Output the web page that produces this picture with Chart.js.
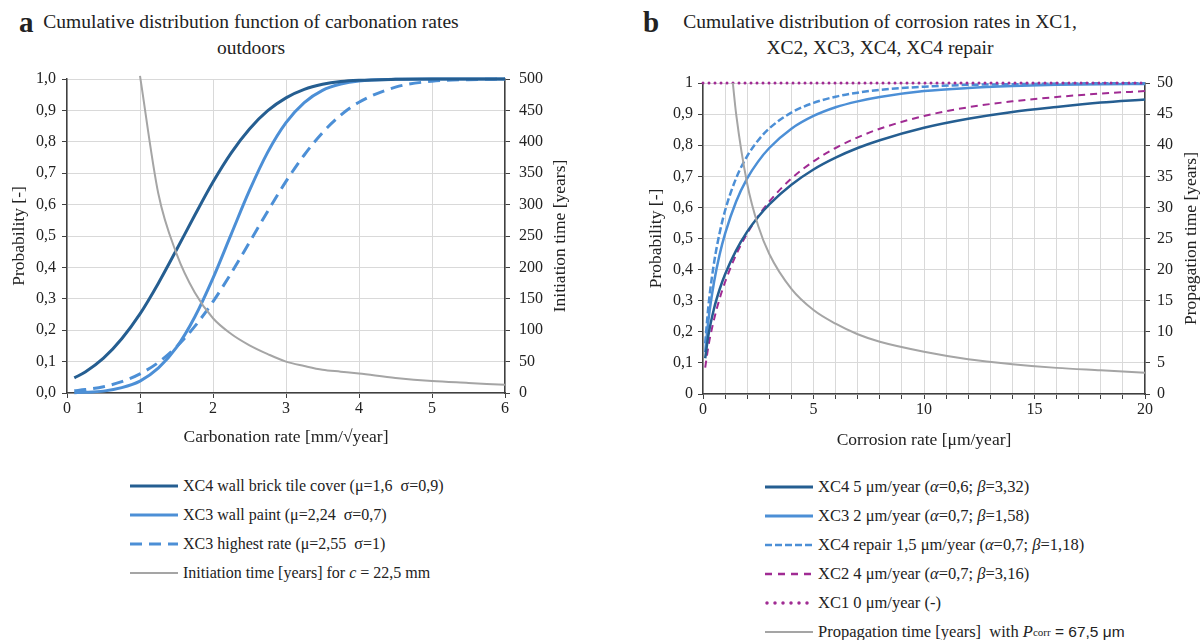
<!DOCTYPE html>
<html>
<head>
<meta charset="utf-8">
<script src="https://cdn.jsdelivr.net/npm/chart.js@4.4.0/dist/chart.umd.min.js"></script>
<style>
  body { margin: 0; background: #fff; font-family: "Liberation Serif", serif; color: #222; }
  #page { position: relative; width: 1204px; height: 640px; overflow: hidden; }
  .box { position: absolute; }
  .ttl { position: absolute; text-align: center; font-size: 19.5px; line-height: 26px; white-space: nowrap; }
  .lab { position: absolute; font-weight: bold; font-size: 29px; }
  .leg { position: absolute; font-size: 16.5px; }
  .leg div { height: 29px; display: flex; align-items: center; white-space: pre; }
  .leg svg { margin-right: 5px; }
</style>
</head>
<body>
<div id="page">
  <div class="lab" style="left:19px; top:6px;">a</div>
  <div class="ttl" style="left:1px; width:500px; top:9px;">Cumulative distribution function of carbonation rates<br>outdoors</div>
  <div class="lab" style="left:643px; top:6px;">b</div>
  <div class="ttl" style="left:630px; width:500px; top:9px;">Cumulative distribution of corrosion rates in XC1,<br>XC2, XC3, XC4, XC4 repair</div>

  <div class="box" style="left:0; top:60px; width:600px; height:400px;"><canvas id="chartA" width="600" height="400"></canvas></div>
  <div class="box" style="left:604px; top:60px; width:600px; height:400px;"><canvas id="chartB" width="600" height="400"></canvas></div>

  <div class="leg" style="left:128px; top:471px; font-size:16px;">
    <div><svg width="50" height="6"><line x1="2" y1="3" x2="50" y2="3" stroke="#255e91" stroke-width="3"/></svg>XC4 wall brick tile cover (μ=1,6  σ=0,9)</div>
    <div><svg width="50" height="6"><line x1="2" y1="3" x2="50" y2="3" stroke="#4c8fd6" stroke-width="3"/></svg>XC3 wall paint (μ=2,24  σ=0,7)</div>
    <div><svg width="50" height="6"><line x1="2" y1="3" x2="50" y2="3" stroke="#4c8fd6" stroke-width="3" stroke-dasharray="12,7"/></svg>XC3 highest rate (μ=2,55  σ=1)</div>
    <div><svg width="50" height="6"><line x1="2" y1="3" x2="50" y2="3" stroke="#a5a5a5" stroke-width="2"/></svg>Initiation time [years] for <i>c</i> = 22,5 mm</div>
  </div>

  <div class="leg" style="left:763px; top:472px;">
    <div><svg width="50" height="6"><line x1="2" y1="3" x2="50" y2="3" stroke="#255e91" stroke-width="3"/></svg>XC4 5 μm/year (<i>α</i>=0,6; <i>β</i>=3,32)</div>
    <div><svg width="50" height="6"><line x1="2" y1="3" x2="50" y2="3" stroke="#4c8fd6" stroke-width="3"/></svg>XC3 2 μm/year (<i>α</i>=0,7; <i>β</i>=1,58)</div>
    <div><svg width="50" height="6"><line x1="2" y1="3" x2="50" y2="3" stroke="#4c8fd6" stroke-width="2.5" stroke-dasharray="7,3"/></svg>XC4 repair 1,5 μm/year (<i>α</i>=0,7; <i>β</i>=1,18)</div>
    <div><svg width="50" height="6"><line x1="2" y1="3" x2="50" y2="3" stroke="#a02b93" stroke-width="2.5" stroke-dasharray="7,6"/></svg>XC2 4 μm/year (<i>α</i>=0,7; <i>β</i>=3,16)</div>
    <div><svg width="50" height="6"><line x1="4" y1="3" x2="50" y2="3" stroke="#a02b93" stroke-width="3.5" stroke-linecap="round" stroke-dasharray="0,8"/></svg>XC1 0 μm/year (-)</div>
    <div><svg width="50" height="6"><line x1="2" y1="3" x2="50" y2="3" stroke="#a5a5a5" stroke-width="2"/></svg>Propagation time [years]  with <i>P</i><sub style="font-size:11px">corr</sub><span style="font-family:'Liberation Sans',sans-serif; font-size:15.5px"> = 67,5 μm</span></div>
  </div>
</div>

<script>
// ---- chart a : carbonation rates ----
var carbX   = [0.1, 0.25, 0.5, 0.75, 1, 1.25, 1.5, 1.75, 2, 2.25, 2.5, 2.75, 3, 3.25, 3.5, 3.75, 4, 4.5, 5, 5.5, 6];
var xc4Wall = [0.048, 0.067, 0.111, 0.173, 0.252, 0.349, 0.456, 0.566, 0.672, 0.765, 0.841, 0.899, 0.940, 0.967, 0.983, 0.992, 0.996, 0.999, 1, 1, 1];
var xc3Paint = [0.001, 0.002, 0.006, 0.017, 0.038, 0.079, 0.145, 0.242, 0.366, 0.506, 0.645, 0.767, 0.861, 0.925, 0.964, 0.984, 0.994, 0.999, 1, 1, 1];
var xc3High = [0.007, 0.011, 0.020, 0.036, 0.061, 0.097, 0.147, 0.212, 0.291, 0.382, 0.480, 0.579, 0.674, 0.758, 0.829, 0.885, 0.926, 0.974, 0.993, 0.998, 1];
var initX   = [1, 1.25, 1.5, 1.75, 2, 2.25, 2.5, 2.75, 3, 3.25, 3.5, 3.75, 4, 4.5, 5, 5.5, 6];
var initTime = [505, 318, 222, 160, 119, 94, 76, 62, 50, 43, 37, 34, 31, 24, 19, 16, 13];

// ---- chart b : corrosion rates ----
var corrX     = [0.1, 0.25, 0.5, 0.75, 1, 1.5, 2, 2.5, 3, 4, 5, 6, 7, 8, 10, 12, 14, 16, 18, 20];
var xc4Corr   = [0.115, 0.191, 0.275, 0.336, 0.385, 0.462, 0.522, 0.570, 0.610, 0.673, 0.722, 0.760, 0.791, 0.816, 0.856, 0.885, 0.907, 0.923, 0.937, 0.947];
var xc3Corr   = [0.135, 0.240, 0.360, 0.448, 0.516, 0.619, 0.693, 0.748, 0.791, 0.853, 0.894, 0.922, 0.941, 0.955, 0.974, 0.984, 0.990, 0.994, 0.996, 0.997];
var xc4Repair = [0.163, 0.286, 0.422, 0.517, 0.590, 0.694, 0.765, 0.816, 0.854, 0.905, 0.936, 0.956, 0.969, 0.978, 0.988, 0.994, 0.996, 0.998, 0.999, 0.999];
var xc2Corr   = [0.085, 0.156, 0.240, 0.306, 0.360, 0.448, 0.516, 0.572, 0.619, 0.693, 0.748, 0.791, 0.825, 0.853, 0.894, 0.922, 0.941, 0.955, 0.966, 0.974];
var xc1X      = [0, 20];
var xc1Corr   = [1, 1];
var propX     = [1.35, 1.5, 2, 2.5, 3, 4, 5, 6, 7, 8, 10, 12, 14, 16, 18, 20];
var propTime  = [50, 45, 33.8, 27, 22.5, 16.9, 13.5, 11.3, 9.6, 8.4, 6.8, 5.6, 4.8, 4.2, 3.8, 3.4];

var dark = '#255e91', light = '#4c8fd6', magenta = '#a02b93', grey = '#a5a5a5';
var axisCol = '#404040', gridCol = '#d9d9d9', txt = '#222';
var serif = "'Liberation Serif', serif";
var titleFont = { size: 17.5 };

function pts(xs, ys) {
  return xs.map(function(x, i) { return {x: x, y: ys[i]}; });
}
function line(data, color, width, dash, axis) {
  return {
    data: data, borderColor: color, borderWidth: width, borderDash: dash || [],
    pointRadius: 0, fill: false, cubicInterpolationMode: 'monotone', yAxisID: axis || 'y', clip: 4
  };
}
function comma(v, dec) {
  return v.toFixed(dec).replace('.', ',');
}
function fixW(w) { return function(s) { s.width = w; }; }
function fixH(h) { return function(s) { s.height = h; }; }

var rightTitle = {
  id: 'rightTitle',
  afterDraw: function(chart, args, opts) {
    var s = chart.scales.y2, ctx = chart.ctx;
    ctx.save();
    ctx.translate(s.right - opts.offset, (s.top + s.bottom) / 2);
    ctx.rotate(-Math.PI / 2);
    ctx.font = titleFont.size + 'px ' + serif;
    ctx.fillStyle = txt;
    ctx.textAlign = 'center';
    ctx.textBaseline = 'middle';
    ctx.fillText(opts.text, 0, 0);
    ctx.restore();
  }
};

Chart.defaults.font.family = serif;
Chart.defaults.font.size = 16;
Chart.defaults.color = txt;

new Chart(document.getElementById('chartA').getContext('2d'), {
  type: 'line',
  data: {
    datasets: [
      line(pts(initX, initTime), grey, 2, null, 'y2'),
      line(pts(carbX, xc4Wall), dark, 3),
      line(pts(carbX, xc3Paint), light, 3),
      line(pts(carbX, xc3High), light, 3, [12, 7])
    ]
  },
  plugins: [rightTitle],
  options: {
    responsive: false, animation: false,
    layout: { padding: { top: 19 } },
    plugins: {
      legend: { display: false }, tooltip: { enabled: false },
      rightTitle: { text: 'Initiation time [years]', offset: 40 }
    },
    scales: {
      x: {
        type: 'linear', min: 0, max: 6,
        ticks: { stepSize: 1, padding: 1 },
        grid: { color: gridCol, tickColor: axisCol, tickLength: 5 },
        border: { color: axisCol, width: 1.5 },
        title: { display: true, text: 'Carbonation rate [mm/√year]', font: titleFont, padding: { bottom: 12 } },
        afterFit: fixH(67)
      },
      y: {
        position: 'left', min: 0, max: 1,
        ticks: { stepSize: 0.1, padding: 6, callback: function(v) { return comma(v, 1); } },
        grid: { color: gridCol, tickColor: axisCol, tickLength: 5 },
        border: { color: axisCol, width: 1.5 },
        title: { display: true, text: 'Probability [-]', font: titleFont, padding: { top: 9 } },
        afterFit: fixW(67)
      },
      y2: {
        position: 'right', min: 0, max: 500,
        ticks: { stepSize: 50, padding: 9 },
        grid: { drawOnChartArea: false, tickColor: axisCol, tickLength: 5 },
        border: { color: axisCol, width: 1.5 },
        afterFit: fixW(95)
      }
    }
  }
});

new Chart(document.getElementById('chartB').getContext('2d'), {
  type: 'line',
  data: {
    datasets: [
      line(pts(propX, propTime), grey, 2, null, 'y2'),
      Object.assign(line(pts(xc1X, xc1Corr), magenta, 3, [0, 6]), { borderCapStyle: 'round' }),
      line(pts(corrX, xc4Corr), dark, 2.5),
      line(pts(corrX, xc3Corr), light, 2.5),
      line(pts(corrX, xc4Repair), light, 2.5, [7, 3]),
      line(pts(corrX, xc2Corr), magenta, 2, [7, 5])
    ]
  },
  plugins: [rightTitle],
  options: {
    responsive: false, animation: false,
    layout: { padding: { top: 23 } },
    plugins: {
      legend: { display: false }, tooltip: { enabled: false },
      rightTitle: { text: 'Propagation time [years]', offset: 13 }
    },
    scales: {
      x: {
        type: 'linear', min: 0, max: 20,
        ticks: { stepSize: 1, padding: 1, autoSkip: false, maxRotation: 0,
                 callback: function(v) { return v % 5 === 0 ? v : ''; } },
        grid: { color: gridCol, tickColor: axisCol, tickLength: 5 },
        border: { color: axisCol, width: 1.5 },
        title: { display: true, text: 'Corrosion rate [μm/year]', font: titleFont, padding: { bottom: 9 } },
        afterFit: fixH(66)
      },
      y: {
        position: 'left', min: 0, max: 1,
        ticks: { stepSize: 0.1, padding: 5,
                 callback: function(v) { return (v === 0 || v === 1) ? String(v) : comma(v, 1); } },
        grid: { color: gridCol, tickColor: axisCol, tickLength: 5 },
        border: { color: axisCol, width: 1.5 },
        title: { display: true, text: 'Probability [-]', font: titleFont, padding: { top: 42 } },
        afterFit: fixW(99)
      },
      y2: {
        position: 'right', min: 0, max: 50,
        ticks: { stepSize: 5, padding: 7 },
        grid: { drawOnChartArea: false, tickColor: axisCol, tickLength: 5 },
        border: { color: axisCol, width: 1.5 },
        afterFit: fixW(59)
      }
    }
  }
});
</script>
</body>
</html>
